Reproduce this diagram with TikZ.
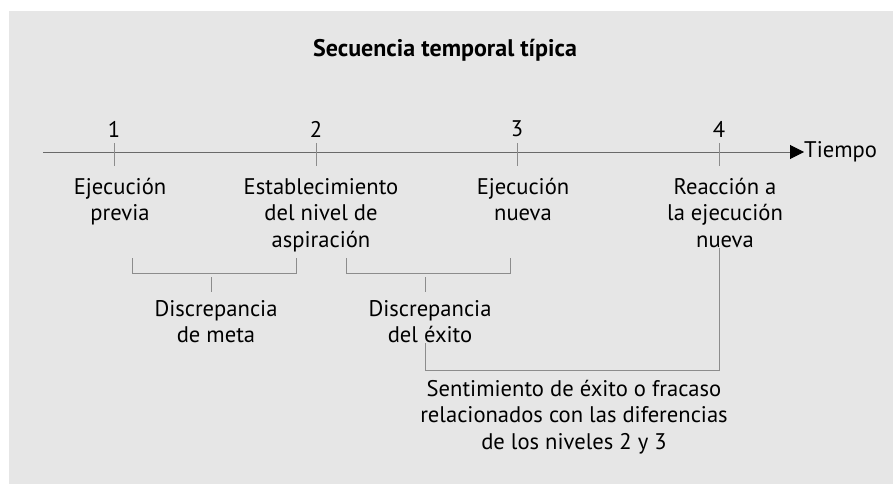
\documentclass[tikz,border=0pt]{standalone}
\usepackage{fontspec}
\setmainfont{PT Sans}
\usetikzlibrary{arrows.meta, positioning, calc}
\definecolor{bggray}{RGB}{230,230,230}
\definecolor{axisgray}{RGB}{105,105,105}
\definecolor{brkgray}{RGB}{140,140,140}
\tikzset{
  lbl/.style={align=center, inner sep=0pt,
    font=\fontsize{22.6}{26.5}\selectfont},
  title/.style={inner sep=0pt, font=\fontsize{24}{28}\selectfont\bfseries},
  axis/.style={line width=1pt, color=axisgray,
    -{Triangle[length=14pt, width=14pt, color=black]}},
  tickline/.style={line width=1pt, color=brkgray},
  bracket/.style={line width=1pt, color=brkgray}
}
\begin{document}
\begin{tikzpicture}[x=1pt, y=1pt]
  % Frame
  \useasboundingbox (0,0) rectangle (893,-484);
  \fill[bggray] (9,-11) rectangle (893,-484);

  % Title
  \node[title] (title) at (445,-50) {Secuencia temporal típica};

  % Time axis
  \coordinate (a0) at (43,-152);
  \node[lbl, anchor=west] (tiempo) at (804,-152) {Tiempo};
  \draw[axis] (a0) -- (tiempo.west);

  % Ticks and numbers
  \foreach \x/\n in {114/1, 316/2, 517/3, 719/4} {
    \coordinate (t\n) at (\x,-152);
    \draw[tickline] (\x,-143) -- (\x,-166);
    \node[lbl] (n\n) at (\x,-129) {\n};
  }

  % Events
  \node[lbl, anchor=north] (e1) at (120,-178) {Ejecución\\previa};
  \node[lbl, anchor=north] (e2) at (321,-178) {Establecimiento\\del nivel de\\aspiración};
  \node[lbl, anchor=north] (e3) at (523,-178) {Ejecución\\nueva};
  \node[lbl, anchor=north] (e4) at (725,-178) {Reacción a\\la ejecución\\nueva};

  % Discrepancies
  \coordinate (b1l) at (132,-258);
  \coordinate (b1r) at (296,-258);
  \coordinate (b2l) at (346,-258);
  \coordinate (b2r) at (510,-258);
  \node[lbl, anchor=north] (dmeta) at (216,-300) {Discrepancia\\de meta};
  \node[lbl, anchor=north] (dexito) at (430,-300) {Discrepancia\\del éxito};
  \draw[bracket] (b1l) -- ++(0,-15) -| (b1r);
  \draw[bracket] (b2l) -- ++(0,-15) -| (b2r);
  \draw[bracket] (211,-277) -- (211,-292);
  \draw[bracket] (425,-277) -- (425,-292);

  % Result
  \node[lbl, anchor=north] (sent) at (574,-380)
    {Sentimiento de éxito o fracaso\\relacionados con las diferencias\\de los niveles 2 y 3};
  \coordinate (low) at (425,-370);
  \draw[bracket] (dexito.south -| low) -- (low) -| (e4.south -| t4);
\end{tikzpicture}
\end{document}
